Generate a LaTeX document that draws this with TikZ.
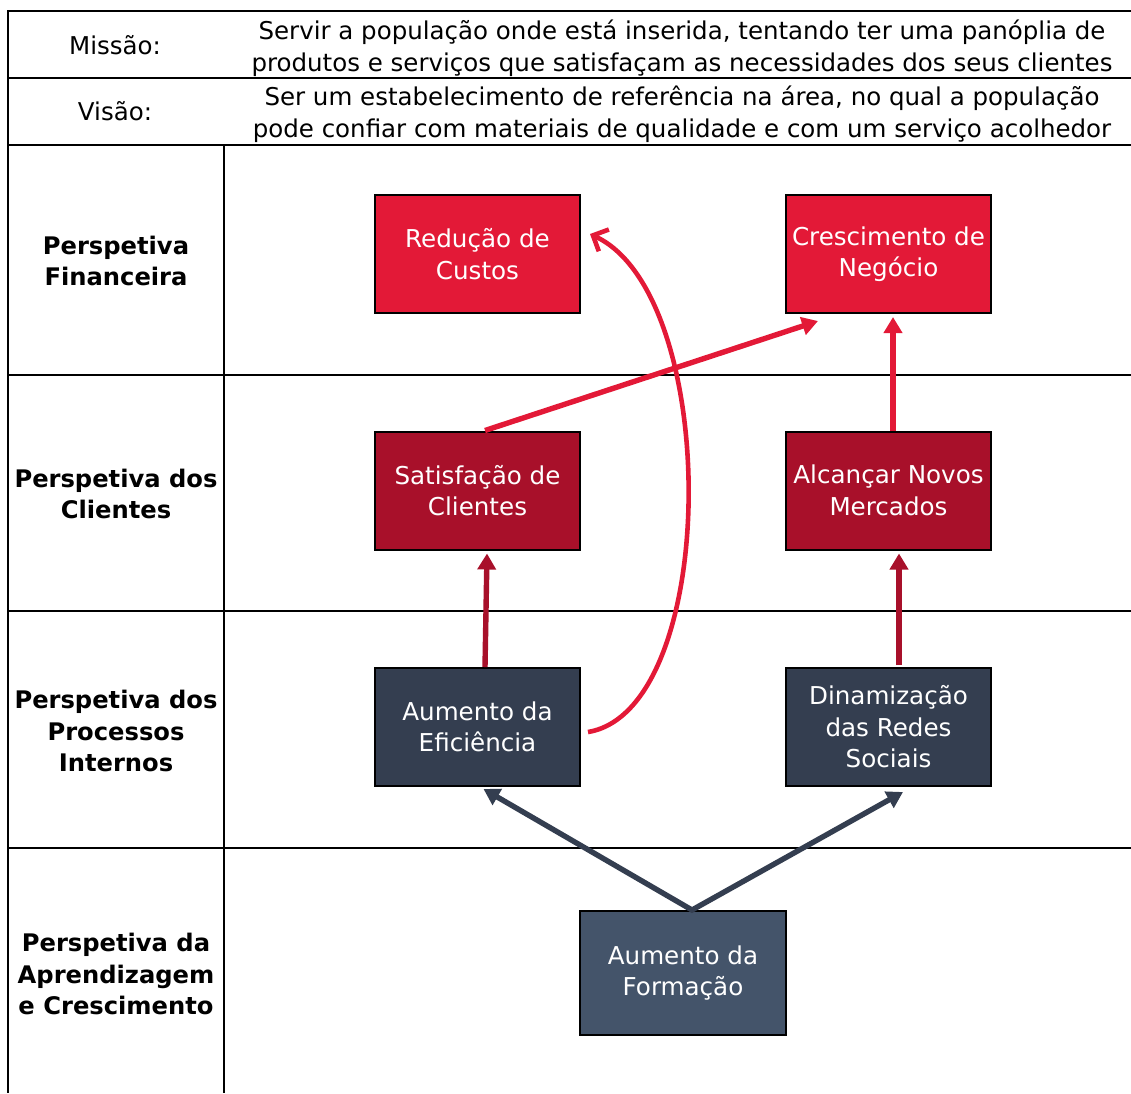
\documentclass[tikz,border=0pt]{standalone}
\usepackage{fontspec}
\setmainfont{DejaVu Sans}
\usetikzlibrary{arrows.meta,calc}
\definecolor{redA}{HTML}{E31937}
\definecolor{redB}{HTML}{A8102A}
\definecolor{navyA}{HTML}{343E50}
\definecolor{navyB}{HTML}{44546A}
\begin{document}
\begin{tikzpicture}[x=1pt,y=-1pt,
  grid/.style={line width=1.6pt, black},
  box/.style={draw=black, line width=2pt, minimum width=205pt, minimum height=118pt, text=white, align=center, font=\fontsize{24.6}{31.5}\selectfont, inner sep=0pt},
  lbl/.style={align=center, font=\fontsize{24.2}{31.5}\selectfont\bfseries},
  hdr/.style={align=center, font=\fontsize{24.5}{31.5}\selectfont},
  tip/.style={-{Triangle[length=16pt,width=18pt]}},
  conn/.style={line width=5.4pt, tip},
]
\useasboundingbox (0,0) rectangle (1131,1093);
% table grid
\draw[grid] (1131,11) -- (8,11) -- (8,1093);
\draw[grid] (8,78) -- (1131,78);
\draw[grid] (8,145) -- (1131,145);
\draw[grid] (8,375) -- (1131,375);
\draw[grid] (8,611) -- (1131,611);
\draw[grid] (8,848) -- (1131,848);
\draw[grid] (224,145) -- (224,1093);
% header
\node[hdr] (mis) at (115,45) {Missão:};
\node[hdr] (mist) at (682,48) {Servir a população onde está inserida, tentando ter uma panóplia de\\produtos e serviços que satisfaçam as necessidades dos seus clientes};
\node[hdr] (vis) at (115,111) {Visão:};
\node[hdr] (vist) at (682,114) {Ser um estabelecimento de referência na área, no qual a população\\pode confiar com materiais de qualidade e com um serviço acolhedor};
% row labels
\node[lbl] (l1) at (116,261) {Perspetiva\\Financeira};
\node[lbl] (l2) at (116,494) {Perspetiva dos\\Clientes};
\node[lbl] (l3) at (116,731) {Perspetiva dos\\Processos\\Internos};
\node[lbl] (l4) at (116,974) {Perspetiva da\\Aprendizagem\\e Crescimento};
% boxes
\node[box, fill=redA] (red1) at (477.5,254) {Redução de\\Custos};
\node[box, fill=redA] (red2) at (888.5,254) {Crescimento de\\Negócio};
\node[box, fill=redB] (sat) at (477.5,490.5) {Satisfação de\\Clientes};
\node[box, fill=redB] (alc) at (888.5,490.5) {Alcançar Novos\\Mercados};
\node[box, fill=navyA] (efi) at (477.5,727) {Aumento da\\Eficiência};
\node[box, fill=navyA] (din) at (888.5,727) {Dinamização\\das Redes\\Sociais};
\node[box, fill=navyB, minimum width=206pt, minimum height=124pt] (form) at (683,973) {Aumento da\\Formação};
% connector end points
\coordinate (satT) at ($(sat.north)+(7.5,0)$);
\coordinate (crsBL) at ($(red2.south)+(-70.5,7)$);
\coordinate (alcT) at ($(alc.north)+(4.5,0)$);
\coordinate (crsB) at ($(red2.south)+(4.5,3)$);
\coordinate (efiT) at ($(efi.north)+(7.5,0)$);
\coordinate (satB) at ($(sat.south)+(9.5,3)$);
\coordinate (dinT) at ($(din.north)+(10.5,-2)$);
\coordinate (alcB) at ($(alc.south)+(10.5,3)$);
\coordinate (efiR) at ($(efi.east)+(7,5)$);
\coordinate (redR) at ($(red1.east)+(9,-20)$);
\coordinate (apex) at ($(form.north)+(9,0)$);
\coordinate (efiB) at ($(efi.south)+(6,2)$);
\coordinate (dinB) at ($(din.south)+(14.5,5)$);
% connectors
\draw[conn, redA] (satT) -- (crsBL);
\draw[conn, redA] (alcT) -- (crsB);
\draw[conn, redB] (efiT) -- (satB);
\draw[conn, redB] (dinT) -- (alcB);
\draw[line width=4.6pt, redA, -{Straight Barb[length=12pt,width=24pt]}] (efiR) .. controls (720,710) and (722,295) .. (redR);
\draw[line width=5.4pt, navyA, {Triangle[length=16pt,width=18pt]}-{Triangle[length=16pt,width=18pt]}] (efiB) -- (apex) -- (dinB);
\end{tikzpicture}
\end{document}
